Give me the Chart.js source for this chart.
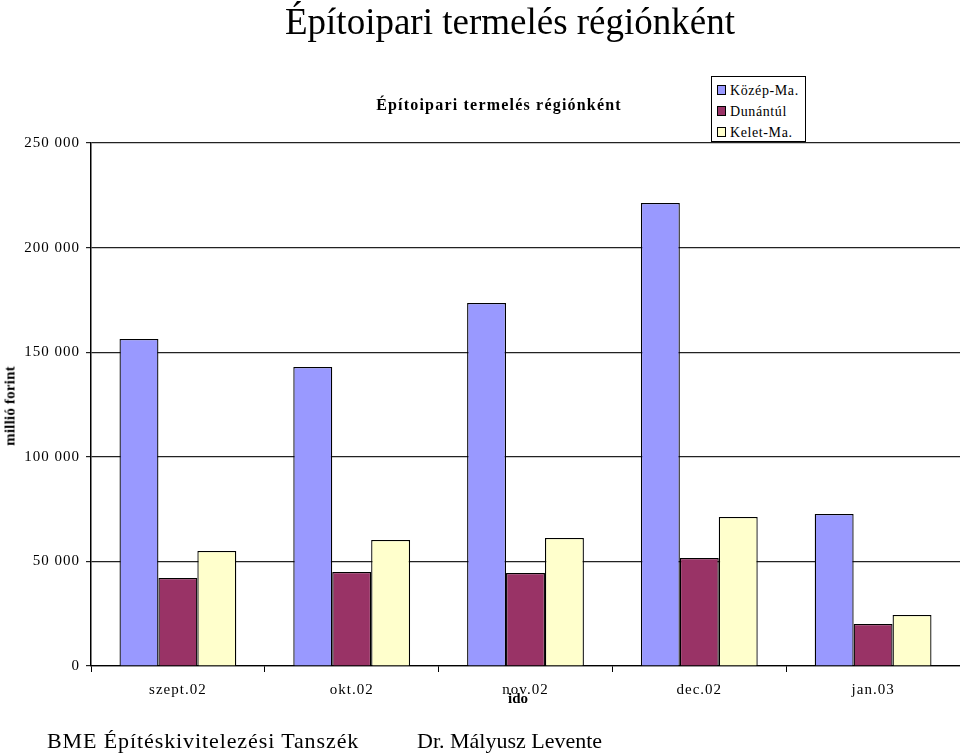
<!DOCTYPE html>
<html>
<head>
<meta charset="utf-8">
<script src="https://cdn.jsdelivr.net/npm/chart.js@4/dist/chart.umd.min.js"></script>
<style>
  html, body { margin: 0; padding: 0; background: #fff; }
  #wrap { position: relative; width: 960px; height: 755px; overflow: hidden; }
  canvas { position: absolute; left: 0; top: 0; }
  .t { position: absolute; white-space: nowrap; color: #000; }
  #mainTitle { font-family: "Liberation Serif", "Times New Roman", serif; font-size: 37px; left: 0; width: 1020px; text-align: center; top: 0px; }
  #innerTitle { font-family: "Liberation Serif", serif; font-weight: bold; font-size: 16px; letter-spacing: 1.2px; left: 0; width: 998px; text-align: center; top: 96px; }
  #xTitle { font-family: "Liberation Serif", serif; font-weight: bold; font-size: 15px; left: 0; width: 1036px; text-align: center; top: 690px; }
  #yTitle { font-family: "Liberation Serif", serif; font-weight: bold; font-size: 15px; left: 10px; top: 406px; width: 0; height: 0; }
  #yTitle span { position: absolute; left: 0; top: 0; transform: translate(-50%, -50%) rotate(-90deg); white-space: nowrap; letter-spacing: 0.2px; }
  #legend { position: absolute; left: 711px; top: 76px; width: 93px; height: 64px; border: 1px solid #000; background: #fff; font-family: "Liberation Serif", serif; font-size: 14px; letter-spacing: 0.6px; }
  #legend .row { position: absolute; left: 5px; height: 16px; line-height: 16px; }
  #legend .sw { display: inline-block; width: 7px; height: 8px; border: 1px solid #000; margin-right: 4px; vertical-align: 0px; }
  .foot { font-family: "Liberation Serif", "Times New Roman", serif; font-size: 22px; top: 728px; }
</style>
</head>
<body>
<div id="wrap">
  <canvas id="c" width="960" height="755"></canvas>
  <div class="t" id="mainTitle">Építoipari termelés régiónként</div>
  <div class="t" id="innerTitle">Építoipari termelés régiónként</div>
  <div class="t" id="xTitle">ido</div>
  <div class="t" id="yTitle"><span>millió forint</span></div>
  <div id="legend"></div>
  <div class="t foot" style="left:47px; letter-spacing:0.9px;">BME Építéskivitelezési Tanszék</div>
  <div class="t foot" style="left:417px;">Dr. Mályusz Levente</div>
</div>
<script>
const categories = ["szept.02", "okt.02", "nov.02", "dec.02", "jan.03"];
const seriesNames = ["Közép-Ma.", "Dunántúl", "Kelet-Ma."];
const kozepMa = [156300, 142900, 173500, 221300, 72700];
const dunantul = [42100, 44900, 44500, 51600, 20100];
const keletMa = [55000, 60200, 61200, 71200, 24400];
const seriesColors = ["#9999FF", "#993366", "#FFFFCC"];
const yTicks = [0, 50000, 100000, 150000, 200000, 250000];

const seriesValues = [kozepMa, dunantul, keletMa];

// HTML legend
const leg = document.getElementById('legend');
seriesNames.forEach((n, i) => {
  const r = document.createElement('div');
  r.className = 'row';
  r.style.top = (6 + i * 21) + 'px';
  r.innerHTML = '<span class="sw" style="background:' + seriesColors[i] + '"></span>' + n;
  leg.appendChild(r);
});

const fmt = v => {
  const s = String(Math.round(v));
  return s.replace(/\B(?=(\d{3})+(?!\d))/g, ' ');
};

const spacingPlugin = {
  id: 'spacing',
  beforeDraw(chart) { chart.ctx.letterSpacing = '1px'; },
  afterDraw(chart) { chart.ctx.letterSpacing = '0px'; }
};

new Chart(document.getElementById('c'), {
  type: 'bar',
  data: {
    labels: categories,
    datasets: seriesNames.map((n, i) => ({
      label: n,
      data: seriesValues[i],
      backgroundColor: seriesColors[i],
      borderColor: '#000',
      borderWidth: 1.3,
      categoryPercentage: 0.672,
      barPercentage: 1.0
    }))
  },
  plugins: [spacingPlugin],
  options: {
    responsive: false,
    animation: false,
    devicePixelRatio: 1,
    layout: { padding: { top: 143, right: 0, left: 0, bottom: 0 } },
    plugins: {
      legend: { display: false },
      title: { display: false },
      tooltip: { enabled: false }
    },
    scales: {
      x: {
        grid: { offset: true, drawOnChartArea: false, tickLength: 6, color: '#000', lineWidth: 1 },
        border: { color: '#000', width: 1.3 },
        ticks: { color: '#000', padding: 9, font: { family: 'Liberation Serif', size: 15 } },
        afterFit: s => { s.height = 89; }
      },
      y: {
        min: 0, max: 250000,
        afterBuildTicks: s => { s.ticks = yTicks.map(v => ({ value: v })); },
        grid: { color: '#222', lineWidth: 1.2, tickLength: 5 },
        border: { color: '#000', width: 1.5 },
        ticks: { color: '#000', padding: 6, font: { family: 'Liberation Serif', size: 15 }, callback: v => fmt(v) },
        afterFit: s => { s.width = 91; }
      }
    }
  }
});
</script>
</body>
</html>
